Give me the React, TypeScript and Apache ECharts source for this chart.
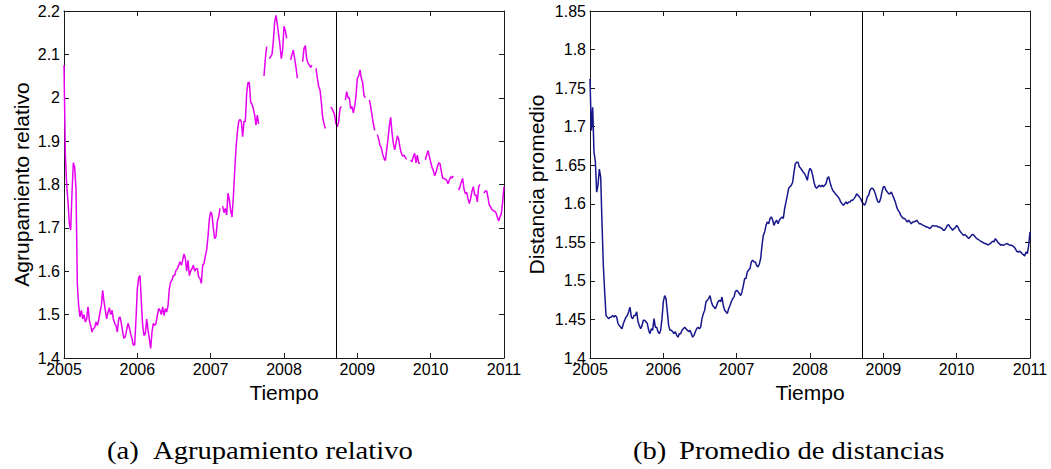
import React, { useEffect, useRef } from "react";
import * as echarts from "echarts";

// Time grid of both series: one reading every 1/55 of a year from 2005.0 to 2011.0
const START_YEAR = 2005;
const STEPS_PER_YEAR = 55;

// Vertical reference marker (September 2008)
const crisisYear = [2008.71];

// Relative clustering (null = no data)
const agrupamiento: (number | null)[] = [
  2.075, 1.87, 1.8, 1.76, 1.71, 1.695, 1.78, 1.85, 1.84, 1.79,
  1.57, 1.52, 1.495, 1.51, 1.49, 1.5, 1.483, 1.49, 1.518, 1.487,
  1.475, 1.46, 1.468, 1.47, 1.483, 1.475, 1.487, 1.506, 1.52, 1.556,
  1.53, 1.51, 1.49, 1.505, 1.516, 1.5, 1.51, 1.49, 1.48, 1.475,
  1.46, 1.49, 1.495, 1.48, 1.46, 1.445, 1.45, 1.465, 1.48, 1.47,
  1.455, 1.445, 1.43, 1.43, 1.49, 1.56, 1.585, 1.59, 1.53, 1.475,
  1.452, 1.456, 1.49, 1.465, 1.445, 1.422, 1.46, 1.48, 1.475, 1.48,
  1.498, 1.514, 1.51, 1.5, 1.518, 1.498, 1.514, 1.506, 1.52, 1.56,
  1.575, 1.58, 1.59, 1.59, 1.602, 1.606, 1.614, 1.622, 1.614, 1.625,
  1.64, 1.63, 1.6, 1.625, 1.59, 1.6, 1.606, 1.614, 1.6, 1.606,
  1.606, 1.587, 1.583, 1.572, 1.614, 1.618, 1.635, 1.65, 1.68, 1.72,
  1.737, 1.73, 1.7, 1.675, 1.68, 1.715, 1.725, 1.745, null, 1.75,
  1.735, 1.745, 1.73, 1.78, 1.765, 1.74, 1.725, 1.77, 1.83, 1.883,
  1.92, 1.945, 1.95, 1.945, 1.91, 1.945, 1.945, 2.01, 2.035, 2.035,
  1.99, 1.985, 1.975, 1.96, 1.937, 1.96, 1.94, null, null, null,
  2.05, 2.09, 2.118, null, 2.09, 2.095, 2.1, 2.13, 2.175, 2.19,
  2.17, 2.145, 2.12, 2.09, 2.11, 2.165, 2.155, 2.137, null, null,
  2.087, 2.1, 2.11, 2.09, 2.07, 2.045, null, null, null, 2.083,
  2.114, 2.12, 2.09, 2.08, 2.075, 2.07, 2.075, null, null, 2.068,
  2.045, 2.026, 2.018, 1.99, 1.955, 1.94, 1.929, null, null, null,
  1.979, 1.975, 1.968, 1.96, 1.94, 1.933, 1.945, 1.975, 1.98, null,
  null, 1.995, 2.014, 2.0, 2.0, 1.975, 1.98, 1.965, 1.98, 2.005,
  2.045, 2.05, 2.064, 2.045, 2.035, 2.005, 2.0, null, null, 1.995,
  1.98, 1.96, 1.94, 1.925, null, 1.915, 1.905, 1.89, 1.885, 1.87,
  1.86, 1.855, 1.88, 1.905, 1.935, 1.955, 1.92, 1.895, 1.88, 1.895,
  1.912, 1.905, 1.885, 1.872, 1.865, 1.868, 1.862, 1.858, null, null,
  1.857, 1.852, 1.865, 1.872, 1.85, 1.868, 1.85, 1.848, null, null,
  null, 1.857, 1.868, 1.878, 1.865, 1.852, 1.84, 1.832, 1.82, 1.828,
  1.84, 1.85, 1.848, 1.83, 1.815, 1.814, 1.812, 1.81, 1.802, 1.81,
  1.818, 1.815, 1.82, null, null, null, 1.787, 1.795, 1.806, 1.814,
  1.79, 1.779, 1.782, 1.768, 1.756, 1.768, 1.785, 1.795, 1.776, 1.776,
  1.76, 1.795, 1.8, null, null, 1.78, 1.785, 1.785, 1.77, 1.752,
  1.748, 1.742, 1.74, 1.738, 1.735, 1.725, 1.716, 1.725, 1.733, 1.76,
  1.795,
];

// Average distance
const distancia: number[] = [
  1.762, 1.695, 1.725, 1.667, 1.655, 1.615, 1.624, 1.645, 1.635, 1.575,
  1.52, 1.486, 1.455, 1.453, 1.451, 1.453, 1.453, 1.455, 1.453, 1.455,
  1.453, 1.4445, 1.442, 1.44, 1.438, 1.4445, 1.449, 1.453, 1.455, 1.46,
  1.466, 1.453, 1.451, 1.455, 1.455, 1.46, 1.447, 1.442, 1.438, 1.442,
  1.449, 1.449, 1.447, 1.4445, 1.436, 1.4316, 1.438, 1.436, 1.451, 1.44,
  1.44, 1.434, 1.4316, 1.436, 1.451, 1.473, 1.481, 1.477, 1.46, 1.442,
  1.436, 1.436, 1.434, 1.4316, 1.434, 1.4294, 1.427, 1.4316, 1.4316, 1.436,
  1.438, 1.44, 1.438, 1.436, 1.434, 1.436, 1.4316, 1.427, 1.4294, 1.434,
  1.438, 1.44, 1.438, 1.44, 1.451, 1.4575, 1.462, 1.473, 1.475, 1.477,
  1.481, 1.473, 1.468, 1.466, 1.464, 1.468, 1.473, 1.475, 1.473, 1.479,
  1.468, 1.462, 1.46, 1.4575, 1.464, 1.468, 1.473, 1.477, 1.479, 1.486,
  1.488, 1.486, 1.4835, 1.481, 1.486, 1.494, 1.503, 1.503, 1.512, 1.514,
  1.516, 1.5246, 1.527, 1.5246, 1.5246, 1.52, 1.518, 1.522, 1.529, 1.546,
  1.559, 1.5635, 1.572, 1.5765, 1.574, 1.581, 1.583, 1.5786, 1.572, 1.5765,
  1.5786, 1.574, 1.5786, 1.581, 1.583, 1.581, 1.594, 1.6024, 1.611, 1.62,
  1.622, 1.624, 1.628, 1.641, 1.652, 1.654, 1.654, 1.648, 1.646, 1.6435,
  1.641, 1.639, 1.635, 1.6305, 1.641, 1.646, 1.6435, 1.637, 1.628, 1.622,
  1.62, 1.622, 1.624, 1.622, 1.624, 1.622, 1.624, 1.626, 1.633, 1.635,
  1.628, 1.622, 1.6175, 1.6154, 1.613, 1.611, 1.609, 1.6067, 1.6024, 1.6,
  1.598, 1.6, 1.6024, 1.6, 1.6024, 1.6024, 1.6045, 1.6045, 1.6067, 1.609,
  1.613, 1.611, 1.609, 1.6067, 1.6024, 1.6, 1.598, 1.6024, 1.609, 1.611,
  1.6175, 1.62, 1.62, 1.6175, 1.613, 1.6067, 1.6024, 1.602, 1.6067, 1.6154,
  1.622, 1.622, 1.6175, 1.6154, 1.613, 1.613, 1.6154, 1.611, 1.6067, 1.6024,
  1.596, 1.5916, 1.5895, 1.585, 1.583, 1.581, 1.581, 1.5786, 1.5765, 1.5786,
  1.5765, 1.574, 1.5765, 1.5765, 1.5773, 1.5786, 1.5765, 1.574, 1.574, 1.573,
  1.572, 1.5713, 1.57, 1.57, 1.5687, 1.568, 1.57, 1.572, 1.5713, 1.5713,
  1.5713, 1.57, 1.57, 1.5687, 1.568, 1.5657, 1.5657, 1.5687, 1.572, 1.573,
  1.57, 1.568, 1.5657, 1.568, 1.5687, 1.572, 1.57, 1.5657, 1.5635, 1.5613,
  1.559, 1.56, 1.559, 1.557, 1.5548, 1.557, 1.559, 1.5605, 1.559, 1.557,
  1.5548, 1.554, 1.5527, 1.5514, 1.5505, 1.5497, 1.5484, 1.5484, 1.547, 1.547,
  1.5484, 1.5497, 1.5514, 1.5505, 1.5548, 1.5527, 1.5497, 1.5484, 1.5462, 1.547,
  1.5462, 1.547, 1.548, 1.5484, 1.547, 1.5462, 1.5462, 1.5453, 1.544, 1.5419,
  1.5384, 1.5375, 1.5384, 1.5375, 1.5354, 1.534, 1.5324, 1.5375, 1.5354, 1.5462,
  1.5635,
];

const yearRange = [2005, 2011];
const agrupRange = [1.4, 2.2];
const distRange = [1.4, 1.85];

const SANS = "Liberation Sans, Arial, Helvetica, sans-serif";
const SERIF = "Liberation Serif, Times New Roman, serif";
const AXIS_COLOR = "#1a1a1a";

function toPairs(values: (number | null)[]) {
  return values.map((v, i) => [START_YEAR + i / STEPS_PER_YEAR, v === null ? "-" : v]);
}

function xAxes(gridIndex: number) {
  const base = {
    type: "value",
    gridIndex,
    min: yearRange[0],
    max: yearRange[1],
    interval: 1,
    splitLine: { show: false },
    axisLine: { show: true, onZero: false, lineStyle: { color: AXIS_COLOR, width: 1 } },
    axisTick: { show: true, inside: true, length: 5, lineStyle: { color: AXIS_COLOR } },
  };
  return [
    {
      ...base,
      position: "bottom",
      axisLabel: {
        color: "#000",
        fontSize: 16,
        fontFamily: SANS,
        margin: 3,
        formatter: (v: number) => String(Math.round(v)),
      },
      name: "Tiempo",
      nameLocation: "middle",
      nameGap: 19,
      nameTextStyle: { color: "#000", fontSize: 21, fontFamily: SANS },
    },
    { ...base, position: "top", axisLabel: { show: false } },
  ];
}

function yAxes(gridIndex: number, range: number[], interval: number, name: string, nameGap: number) {
  const base = {
    type: "value",
    gridIndex,
    min: range[0],
    max: range[1],
    interval,
    splitLine: { show: false },
    axisLine: { show: true, onZero: false, lineStyle: { color: AXIS_COLOR, width: 1 } },
    axisTick: { show: true, inside: true, length: 5, lineStyle: { color: AXIS_COLOR } },
  };
  return [
    {
      ...base,
      position: "left",
      axisLabel: { color: "#000", fontSize: 16, fontFamily: SANS, margin: 4 },
      name,
      nameLocation: "middle",
      nameGap,
      nameTextStyle: { color: "#000", fontSize: 21, fontFamily: SANS },
    },
    { ...base, position: "right", axisLabel: { show: false } },
  ];
}

function crisisMarker() {
  return {
    silent: true,
    symbol: ["none", "none"],
    label: { show: false },
    lineStyle: { color: "#000", width: 1, type: "solid" },
    data: crisisYear.map((x) => ({ xAxis: x })),
  };
}

function caption(x: number, tag: string, text: string, textX: number) {
  const style = { fill: "#000", fontSize: 25, fontFamily: SERIF, verticalAlign: "middle", align: "left" };
  return [
    { type: "text", x, y: 451, scaleX: 1.145, style: { ...style, text: tag } },
    { type: "text", x: textX, y: 451, scaleX: 1.145, style: { ...style, text } },
  ];
}

export default function App() {
  const ref = useRef<HTMLDivElement>(null);

  useEffect(() => {
    if (!ref.current) return;
    const chart = echarts.init(ref.current, null, { renderer: "svg" });
    chart.setOption({
      animation: false,
      backgroundColor: "#fff",
      grid: [
        { left: 64, top: 11, width: 440, height: 347 },
        { left: 590, top: 11, width: 440, height: 347 },
      ],
      xAxis: [...xAxes(0), ...xAxes(1)],
      yAxis: [
        ...yAxes(0, agrupRange, 0.1, "Agrupamiento relativo", 32),
        ...yAxes(1, distRange, 0.05, "Distancia promedio", 43),
      ],
      series: [
        {
          type: "line",
          name: "Agrupamiento relativo",
          xAxisIndex: 0,
          yAxisIndex: 0,
          data: toPairs(agrupamiento),
          showSymbol: false,
          connectNulls: false,
          lineStyle: { color: "#e600f0", width: 1.5 },
          markLine: crisisMarker(),
        },
        {
          type: "line",
          name: "Distancia promedio",
          xAxisIndex: 2,
          yAxisIndex: 2,
          data: toPairs(distancia),
          showSymbol: false,
          lineStyle: { color: "#17178c", width: 1.5 },
          markLine: crisisMarker(),
        },
      ],
      graphic: [
        ...caption(107, "(a)", "Agrupamiento relativo", 153),
        ...caption(633, "(b)", "Promedio de distancias", 679),
      ],
    });
    return () => chart.dispose();
  }, []);

  return (
    <div
      ref={ref}
      style={{ position: "absolute", left: 0, top: 0, width: 1051, height: 469, background: "#fff" }}
    />
  );
}
